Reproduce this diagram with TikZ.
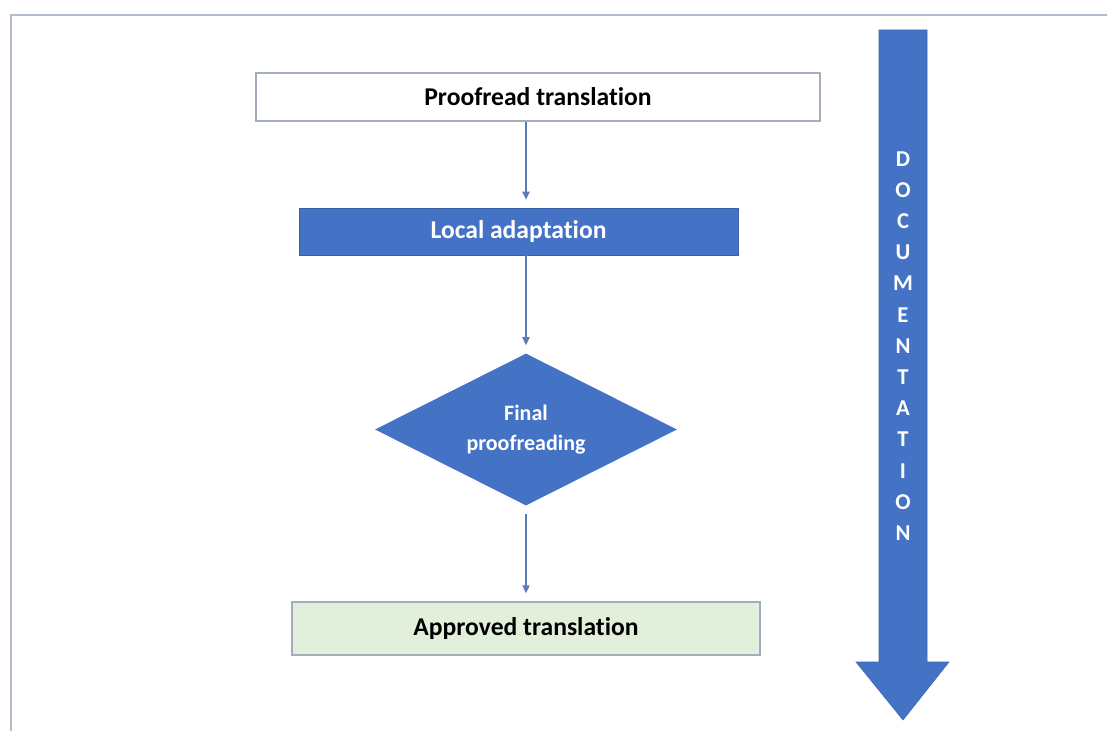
\documentclass[tikz,border=0pt]{standalone}
\usepackage{fontspec}
\setmainfont{Carlito}[RawFeature=-liga]
\usetikzlibrary{shapes.geometric,arrows.meta}

\definecolor{flowblue}{HTML}{4472C4}
\definecolor{linkblue}{HTML}{5B7DB8}
\definecolor{boxedge}{HTML}{A3ADBB}
\definecolor{frameedge}{HTML}{B3BECD}
\definecolor{okgreen}{HTML}{E2EFDA}

\tikzset{
  whitebox/.style={draw=boxedge, line width=1.1pt, fill=white, inner sep=0pt,
    font=\fontsize{19.2}{23}\selectfont\bfseries, text=black},
  bluebox/.style={draw=flowblue!85!black, line width=0.6pt, fill=flowblue, inner sep=0pt,
    font=\fontsize{19.2}{23}\selectfont\bfseries, text=white},
  greenbox/.style={draw=boxedge, line width=1.1pt, fill=okgreen, inner sep=0pt,
    font=\fontsize{19.2}{23}\selectfont\bfseries, text=black},
  decision/.style={diamond, fill=flowblue, draw=none, inner sep=0pt},
  decisiontext/.style={align=center, inner sep=0pt,
    font=\fontsize{16.5}{22}\selectfont\bfseries, text=white},
  link/.style={draw=linkblue, line width=0.8pt,
    -{Triangle[length=6pt,width=5.5pt]}, shorten >=6pt},
  bigarrow/.style={fill=flowblue, draw=flowblue!90!black, line width=0.4pt},
  framebar/.style={draw=frameedge, line width=1.4pt}
}

\begin{document}
\begin{tikzpicture}[x=0.75pt, y=-0.75pt]
  \useasboundingbox (0,0) rectangle (1107,731);

  % outer frame: left and top edges only
  \draw[framebar] (11,731) -- (11,15) -- (1107,15);

  % process steps
  \node[whitebox, minimum width=423pt, minimum height=36pt] (proof) at (538,97)
    {Proofread translation};
  \node[bluebox, minimum width=329.25pt, minimum height=35.25pt] (local) at (518.5,231.5)
    {Local adaptation};
  \node[decision, minimum width=226.5pt, minimum height=114pt] (final) at (526,429.5) {};
  \node[decisiontext] (finaltext) at (final.center) {Final\\proofreading};
  \node[greenbox, minimum width=351pt, minimum height=39.75pt] (approved) at (526,628.5)
    {Approved translation};

  % connectors
  \draw[link] (proof.south -| final.north) -- (local.north -| final.north);
  \draw[link] (local.south -| final.north) -- (final.north);
  \draw[link, shorten <=6pt] (final.south) -- (approved.north -| final.south);

  % documentation arrow running alongside the flow
  \coordinate (doctip) at (903,720);
  \draw[bigarrow] (879,30) -- (927,30) -- (927,662) -- (949,662) -- (doctip)
    -- (856,662) -- (879,662) -- cycle;
  \node[text=white, font=\fontsize{17}{23.4}\selectfont\bfseries, align=center,
        inner sep=0pt] (doclabel) at (903,346)
    {D\\O\\C\\U\\M\\E\\N\\T\\A\\T\\I\\O\\N};
\end{tikzpicture}
\end{document}
